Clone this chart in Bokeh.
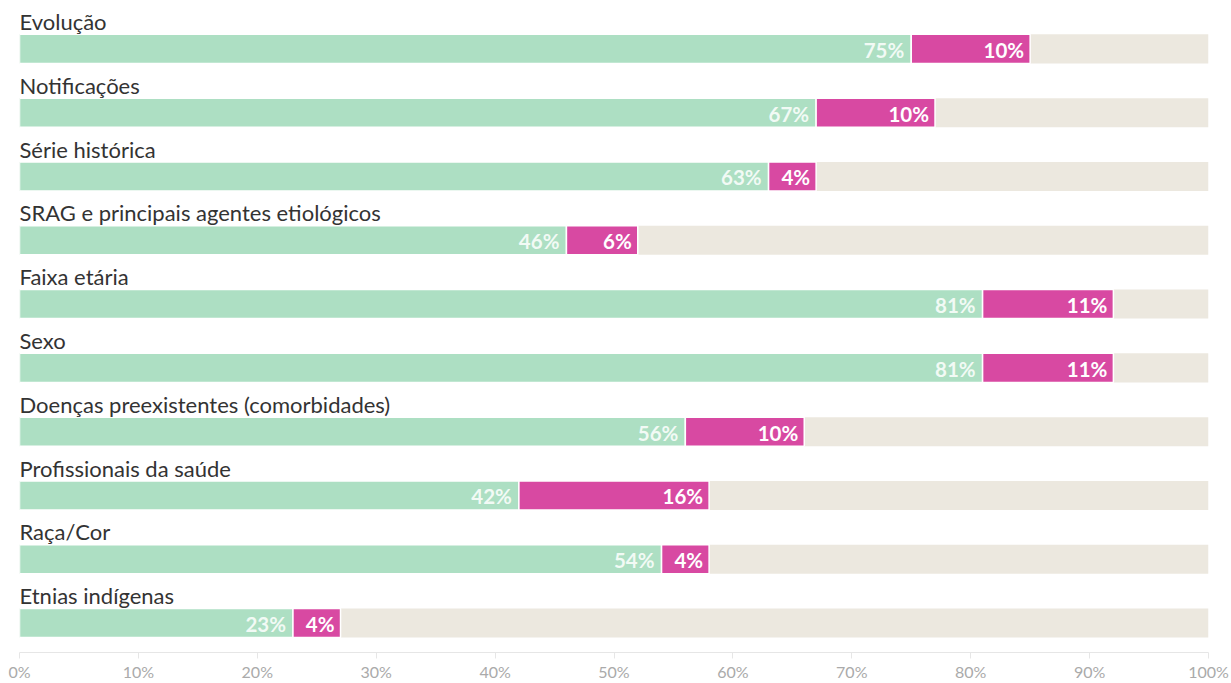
from bokeh.plotting import figure
from bokeh.models import ColumnDataSource, Range1d, FixedTicker
from bokeh.core.properties import value
from bokeh.embed import file_html
from bokeh.resources import INLINE

categories = ["Evolução", "Notificações", "Série histórica",
              "SRAG e principais agentes etiológicos", "Faixa etária", "Sexo",
              "Doenças preexistentes (comorbidades)", "Profissionais da saúde",
              "Raça/Cor", "Etnias indígenas"]
green_vals = [75, 67, 63, 46, 81, 81, 56, 42, 54, 23]
pink_vals = [10, 10, 4, 6, 11, 11, 10, 16, 4, 4]
tick_vals = [0, 10, 20, 30, 40, 50, 60, 70, 80, 90, 100]

GREEN = "#addfc3"
PINK = "#d849a2"
BEIGE = "#ece8df"

rows = list(range(len(categories)))
g_end = green_vals
p_end = [g + p for g, p in zip(green_vals, pink_vals)]
src = ColumnDataSource(dict(
    y=rows, cat=categories, g=green_vals, p=pink_vals,
    zero=[0] * len(rows), g_end=g_end, p_end=p_end, full=[100] * len(rows),
    g_lab=[f"{v}%" for v in green_vals], p_lab=[f"{v}%" for v in pink_vals],
    cat_y=[r - 0.43 for r in rows],
))

p = figure(width=1231, height=683, output_backend="svg", toolbar_location=None,
           x_range=Range1d(0, 100), y_range=Range1d(9.461, -0.633),
           min_border_left=19, min_border_right=23, min_border_top=8, min_border_bottom=29)
p.outline_line_color = None
p.grid.grid_line_color = None
p.yaxis.visible = False

H = 0.455
p.hbar(y="y", left="zero", right="full", height=H, source=src, fill_color=BEIGE, line_color=None)
p.hbar(y="y", left="zero", right="g_end", height=H, source=src, fill_color=GREEN,
       line_color="white", line_width=1.5)
p.hbar(y="y", left="g_end", right="p_end", height=H, source=src, fill_color=PINK,
       line_color="white", line_width=1.5)

p.text(x="g_end", y="y", text="g_lab", source=src, text_align="right", text_baseline="middle",
       x_offset=-7, y_offset=1, text_color="white", text_alpha=0.85, text_font=value("Lato"),
       text_font_style="bold", text_font_size="20.5px")
p.text(x="p_end", y="y", text="p_lab", source=src, text_align="right", text_baseline="middle",
       x_offset=-6, y_offset=1, text_color="white", text_font=value("Lato"),
       text_font_style="bold", text_font_size="20.5px")
p.text(x="zero", y="cat_y", text="cat", source=src, text_align="left", text_baseline="alphabetic",
       text_color="#333333", text_font=value("Lato"), text_font_size="22px")

ax = p.xaxis[0]
ax.ticker = FixedTicker(ticks=tick_vals)
ax.major_label_overrides = {v: f"{v}%" for v in tick_vals}
ax.axis_line_color = "#e6e6e6"
ax.major_tick_line_color = "#e6e6e6"
ax.major_tick_out = 6
ax.major_tick_in = 0
ax.minor_tick_line_color = None
ax.major_label_standoff = 3
ax.major_label_text_color = "#aaaaaa"
ax.major_label_text_font = "Lato"
ax.major_label_text_font_size = "16px"

open("out.html", "w").write(file_html(p, INLINE))
